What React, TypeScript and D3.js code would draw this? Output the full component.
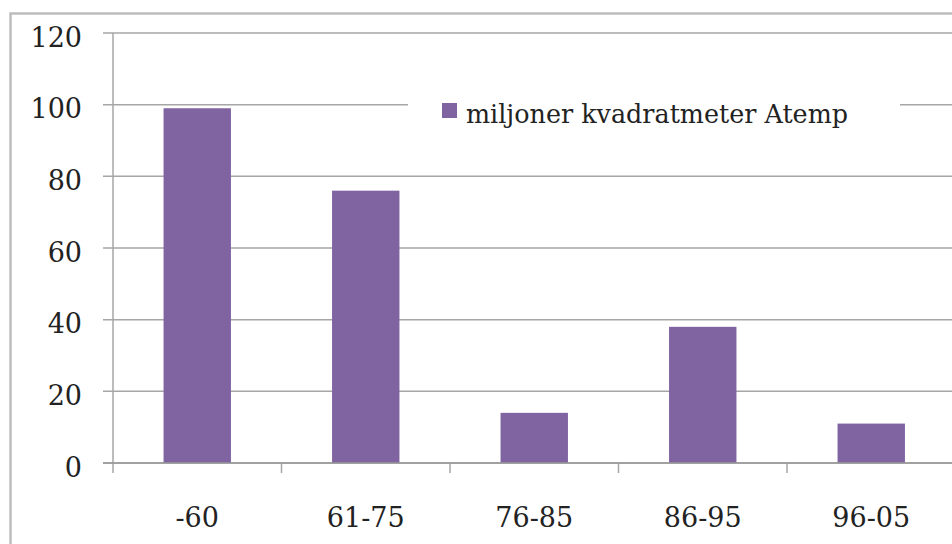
import React from "react";
import * as d3 from "d3";

const categories = ["-60", "61-75", "76-85", "86-95", "96-05"];
const values = [99, 76, 14, 38, 11];
const yTicks = [0, 20, 40, 60, 80, 100, 120];
const seriesName = "miljoner kvadratmeter Atemp";

export default function App() {
  const W = 952, H = 544;
  const left = 113, top = 33, bottom = 463;
  const bandW = 168.5;
  const x = d3.scaleBand<string>().domain(categories).range([left, left + bandW * categories.length]).paddingInner(0.6).paddingOuter(0.3);
  const y = d3.scaleLinear().domain([0, 120]).range([bottom, top]);
  const font = "'DejaVu Serif', serif";
  const grid = "#a6a6a6";
  const right = left + bandW * categories.length;
  return (
    <svg width={W} height={H} style={{ position: "absolute", left: 0, top: 0, background: "#fff" }}>
      <rect x={10.5} y={13.5} width={1000} height={600} fill="none" stroke="#bdbdbd" strokeWidth={2.5} />
      {yTicks.map((t) => (
        <g key={t}>
          <line x1={103} x2={right} y1={y(t)} y2={y(t)} stroke={grid} strokeWidth={1.5} />
          <text x={82} y={y(t) + 13.5} textAnchor="end" fontFamily={font} fontSize={27} fill="#222">{t}</text>
        </g>
      ))}
      <line x1={left} x2={left} y1={top} y2={bottom + 10} stroke={grid} strokeWidth={1.5} />
      {categories.map((c, i) => (
        <line key={"t" + c} x1={left + bandW * (i + 1)} x2={left + bandW * (i + 1)} y1={bottom} y2={bottom + 10} stroke={grid} strokeWidth={1.5} />
      ))}
      {categories.map((c, i) => (
        <rect key={c} x={x(c)} y={y(values[i])} width={x.bandwidth()} height={y(0) - y(values[i])} fill="#8064a2" />
      ))}
      <line x1={103} x2={right} y1={bottom} y2={bottom} stroke="#999" strokeWidth={1.5} />
      {categories.map((c) => (
        <text key={"l" + c} x={(x(c) as number) + x.bandwidth() / 2} y={527} textAnchor="middle" fontFamily={font} fontSize={27} fill="#222">{c}</text>
      ))}
      <rect x={408} y={96} width={492} height={22} fill="#fff" />
      <rect x={442} y={103} width={15} height={15} fill="#8064a2" />
      <text x={466} y={123} fontFamily={font} fontSize={26} textLength={382} lengthAdjust="spacingAndGlyphs" fill="#222">{seriesName}</text>
    </svg>
  );
}
